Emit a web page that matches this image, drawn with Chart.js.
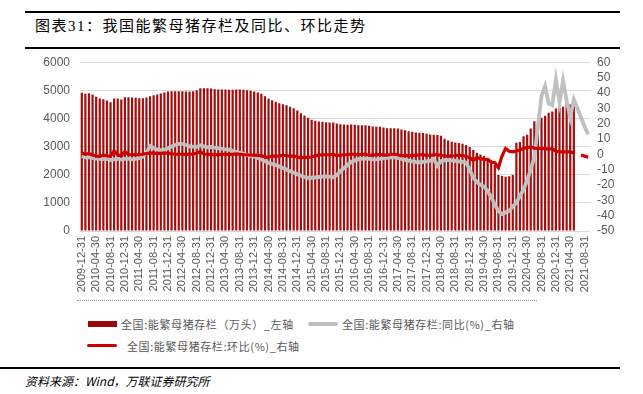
<!DOCTYPE html>
<html>
<head>
<meta charset="utf-8">
<script src="https://cdn.jsdelivr.net/npm/chart.js@4"></script>
<style>
  body { margin: 0; width: 643px; height: 394px; background: #fff; position: relative; overflow: hidden; font-family: "Noto Sans CJK SC", sans-serif; }
  .abs { position: absolute; white-space: nowrap; }
  #title { left: 35px; top: 14px; font-size: 15px; letter-spacing: 1.5px; color: #000; font-family: "Liberation Serif", "Noto Sans CJK SC", serif; }
  .rule { position: absolute; background: #000; }
  .leg { font-size: 11px; color: #595959; letter-spacing: 0.6px; }
  #src { left: 25px; top: 372px; font-size: 12px; font-style: italic; color: #000; }
  #wrap { position: absolute; left: 0; top: 45px; width: 643px; height: 255px; }
</style>
</head>
<body>
<div class="rule" style="left:25px; top:11px; width:595px; height:2px;"></div>
<div id="title" class="abs">图表31：我国能繁母猪存栏及同比、环比走势</div>
<div class="rule" style="left:25px; top:47px; width:595px; height:2px;"></div>

<div id="wrap"><canvas id="chart" width="643" height="255"></canvas></div>
<div class="abs" style="left:77px; top:300px; width:460px; border-top:1px dotted #999;"></div>

<!-- legend -->
<div class="abs" style="left:88px; top:321px; width:29px; height:6px; background:#9B0A0A;"></div>
<div class="abs leg" style="left:121px; top:316px;">全国:能繁母猪存栏（万头）_左轴</div>
<div class="abs" style="left:308px; top:322px; width:30px; height:4px; border-radius:2px; background:#C0C0C0;"></div>
<div class="abs leg" style="left:342px; top:316px;">全国:能繁母猪存栏:同比(%)_右轴</div>
<div class="abs" style="left:87px; top:344px; width:30px; height:3px; border-radius:2px; background:#CC0000;"></div>
<div class="abs leg" style="left:127px; top:338px;">全国:能繁母猪存栏:环比(%)_右轴</div>

<div class="rule" style="left:0; top:367px; width:620px; height:2px;"></div>
<div id="src" class="abs">资料来源：Wind，万联证券研究所</div>

<script>
// monthly, 2009-12 .. 2021-09
const startYear = 2009, startMonth = 12, monthCount = 142;

// 能繁母猪存栏（万头）
const sowStock = [
  4911, 4875, 4899, 4852, 4769, 4710, 4686, 4639, 4579, 4710, 4710, 4674,
  4757, 4757, 4745, 4733, 4721, 4721, 4745, 4792, 4828, 4852, 4887, 4923,
  4958, 4970, 4970, 4970, 4970, 4958, 4958, 4970, 5005, 5078, 5078, 5076,
  5065, 5041, 5029, 5029, 5029, 5017, 5017, 5029, 5029, 5017, 5005, 4982,
  4958, 4923, 4875, 4792, 4698, 4650, 4591, 4544, 4508, 4473, 4414, 4366,
  4284, 4189, 4106, 4023, 3952, 3917, 3893, 3881, 3869, 3858, 3858, 3822,
  3798, 3787, 3775, 3787, 3775, 3763, 3763, 3763, 3739, 3716, 3704, 3704,
  3680, 3656, 3656, 3656, 3645, 3609, 3585, 3550, 3526, 3503, 3491, 3479,
  3455, 3432, 3420, 3408, 3384, 3278, 3219, 3171, 3148, 3124, 3100, 3053,
  2982, 2875, 2781, 2722, 2662, 2603, 2485, 2343, 1990, 1952, 1930, 1950,
  1990, 3135, 3160, 3372, 3420, 3645, 3905, 3800, 4023, 4100, 4201, 4250,
  4355, 4380, 4420, 4556, 4500, 4473
];

// 同比(%)
const yoyPct = [
  -1.2, -2.0, -2.0, -2.3, -2.8, -3.0, -3.2, -3.0, -3.8, -3.3, -3.0, -3.5,
  -3.0, -2.8, -3.3, -3.0, -2.5, -1.5, 1.0, 5.3, 4.0, 3.0, 2.8, 3.0,
  4.0, 5.0, 6.0, 6.8, 6.8, 6.0, 5.2, 5.0, 4.8, 5.8, 5.2, 4.6,
  4.8, 4.3, 4.0, 3.6, 3.2, 3.0, 2.2, 1.6, 1.0, 0.3, -0.3, -1.0,
  -1.5, -2.4, -3.3, -4.5, -5.5, -6.3, -7.0, -8.0, -9.0, -10.0, -11.0, -12.0,
  -13.0, -14.0, -14.8, -15.3, -15.3, -15.0, -14.8, -14.6, -14.4, -14.6, -15.0, -13.5,
  -11.0, -9.0, -7.0, -5.0, -4.0, -3.3, -2.8, -2.8, -3.0, -3.3, -3.3, -3.0,
  -2.6, -2.3, -2.0, -2.0, -2.4, -3.0, -3.6, -4.2, -4.6, -5.0, -5.2, -5.0,
  -4.6, -4.2, -3.0, -7.5, -4.5, -3.8, -3.8, -4.0, -4.3, -4.6, -5.0, -5.5,
  -10.0, -15.3, -18.0, -20.0, -21.0, -24.0, -28.0, -32.6, -37.0, -39.0, -38.0, -37.0,
  -34.0, -31.6, -27.0, -23.0, -17.0, -10.0, -2.0, 18.0, 38.0, 44.4, 33.0, 32.0,
  48.7, 34.0, 48.0, 35.0, 24.0, 35.7, 30.0, 24.0, 18.0, 13.0
];

// 环比(%)
const momPct = [
  1.0, 0.0, 0.5, -0.5, -1.2, -1.3, -0.5, -1.0, -1.3, 2.4, -0.3, -1.0,
  1.8, -0.2, -0.3, -0.2, -0.3, 0.0, 0.5, 0.8, 0.8, 0.6, 0.6, 0.7,
  0.7, 0.3, 0.0, 0.0, 0.0, -0.1, 0.0, 0.2, 0.7, 1.8, 0.0, 0.0,
  -0.2, -0.4, -0.2, 0.0, 0.0, -0.2, 0.0, 0.2, 0.0, -0.2, -0.3, -0.5,
  -0.5, -0.7, -1.0, -1.7, -2.0, -1.0, -1.3, -1.0, -0.8, -0.8, -1.3, -1.1,
  -1.9, -2.2, -2.0, -2.0, -1.8, -0.9, -0.6, -0.3, -0.3, -0.3, 0.0, -0.9,
  -0.6, -0.3, -0.3, 0.3, -0.3, -0.3, 0.0, 0.0, -0.6, -0.6, -0.3, 0.0,
  -0.6, -0.6, 0.0, 0.0, -0.3, -1.0, -0.7, -1.0, -0.7, -0.7, -0.3, -0.3,
  -0.7, -0.7, -0.3, -0.3, -0.7, -1.0, -1.2, -1.0, -0.8, -0.5, -0.8, -1.5,
  -2.3, -4.0, -2.3, -2.8, -3.3, -3.5, -5.0, -5.5, -8.8, -1.2, 3.8, 2.0,
  1.6, 2.1, 3.0, 3.8, 4.5, 4.7, 4.0, 3.8, 3.8, 3.5, 3.5, 3.5,
  2.0, 1.6, 1.6, 1.6, 1.6, 0.8, null, -0.5, -1.2, -1.9
];

// category labels: month-end dates
const monthLabels = [];
for (let k = 0; k < monthCount; k++) {
  const m0 = startMonth - 1 + k;
  const y = startYear + Math.floor(m0 / 12);
  const m = (m0 % 12) + 1;
  const last = new Date(y, m, 0).getDate();
  monthLabels.push(y + '-' + String(m).padStart(2, '0') + '-' + last);
}

const axisFont = { family: 'Liberation Sans, Arial, sans-serif', size: 12 };
const gray = '#595959';

new Chart(document.getElementById('chart'), {
  type: 'bar',
  data: {
    labels: monthLabels,
    datasets: [
      {
        type: 'line', label: '全国:能繁母猪存栏:环比(%)_右轴', data: momPct, yAxisID: 'y1',
        borderColor: '#CC0000', borderWidth: 3.2, pointRadius: 0, tension: 0, order: 0, spanGaps: false
      },
      {
        type: 'line', label: '全国:能繁母猪存栏:同比(%)_右轴', data: yoyPct, yAxisID: 'y1',
        borderColor: '#C0C0C0', borderWidth: 3.8, pointRadius: 0, tension: 0, order: 1
      },
      {
        type: 'bar', label: '全国:能繁母猪存栏（万头）_左轴', data: sowStock, yAxisID: 'y',
        backgroundColor: '#A50E0E', barPercentage: 0.62, categoryPercentage: 1, order: 2
      }
    ]
  },
  options: {
    responsive: false,
    animation: false,
    layout: { padding: { top: 6, left: 0, right: 0, bottom: 0 } },
    plugins: { legend: { display: false }, tooltip: { enabled: false } },
    scales: {
      x: {
        offset: true,
        grid: { display: false, drawTicks: false },
        border: { display: false },
        ticks: {
          autoSkip: false, minRotation: 90, maxRotation: 90, padding: 5,
          color: gray, font: { family: axisFont.family, size: 11 },
          callback: (v, i) => (i % 4 === 0 ? monthLabels[i] : '')
        },
        afterFit: s => { s.height = 69; }
      },
      y: {
        position: 'left', min: 0, max: 6000,
        grid: { color: '#D9D9D9', drawTicks: false },
        border: { display: false },
        ticks: { stepSize: 1000, padding: 10, color: gray, font: axisFont, callback: v => String(v) },
        afterFit: s => { s.width = 80; }
      },
      y1: {
        position: 'right', min: -50, max: 60,
        grid: { display: false, drawTicks: false },
        border: { display: false },
        ticks: { stepSize: 10, autoSkip: false, padding: 7, color: gray, font: axisFont, callback: v => String(v) },
        afterFit: s => { s.width = 53; }
      }
    }
  }
});
</script>
</body>
</html>
